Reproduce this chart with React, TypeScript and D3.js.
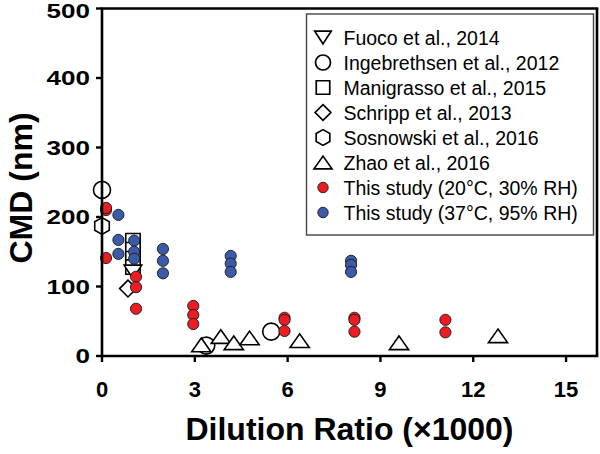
import React from "react";
import * as d3 from "d3";

type Pt = [number, number];

const fuoco: Pt[] = [[1.0, 121]];
const ingebrethsen: Pt[] = [[0, 239], [3.37, 15], [5.47, 35]];
const manigrasso: Pt[] = [[1.0, 166], [1.0, 153], [1.0, 140], [1.0, 128]];
const schripp: Pt[] = [[0.84, 97]];
const sosnowski: Pt[] = [[0, 187]];
const zhao: Pt[] = [[3.21, 16], [3.84, 28], [4.26, 19], [4.77, 26], [6.39, 22], [9.6, 19], [12.8, 29]];
const study20: Pt[] = [
  [0.13, 210], [0.13, 213], [0.13, 141],
  [1.1, 114], [1.1, 99], [1.1, 68],
  [2.95, 72], [2.95, 59], [2.95, 46],
  [5.9, 55], [5.9, 52], [5.9, 36],
  [8.16, 55], [8.16, 52], [8.16, 35],
  [11.1, 52], [11.1, 34],
];
const study37: Pt[] = [
  [0.53, 203], [0.53, 167], [0.53, 147],
  [1.04, 166], [1.04, 150], [1.04, 140],
  [1.97, 154], [1.97, 137], [1.97, 119],
  [4.16, 144], [4.16, 133], [4.16, 121],
  [8.05, 137], [8.05, 131], [8.05, 121],
];

const xTicks = [0, 3, 6, 9, 12, 15];
const yTicks = [0, 100, 200, 300, 400, 500];
const legendLabels = [
  "Fuoco et al., 2014",
  "Ingebrethsen et al., 2012",
  "Manigrasso et al., 2015",
  "Schripp et al., 2013",
  "Sosnowski et al., 2016",
  "Zhao et al., 2016",
  "This study (20°C, 30% RH)",
  "This study (37°C, 95% RH)",
];
const legendShapes = ["tridown", "circle", "square", "diamond", "hexagon", "triup", "red", "blue"];

const RED = "#ec1c24";
const BLUE = "#3b5aa8";
const FONT = "'Liberation Sans', Arial, Helvetica, sans-serif";

function shapePath(kind: string, s: number): string {
  const h = s / 2;
  const p = d3.path();
  if (kind === "triup") {
    const w = s * 0.6;
    p.moveTo(0, -h * 0.85); p.lineTo(w, h * 0.85); p.lineTo(-w, h * 0.85); p.closePath();
  } else if (kind === "tridown") {
    const w = s * 0.55;
    p.moveTo(0, h * 0.85); p.lineTo(w, -h * 0.85); p.lineTo(-w, -h * 0.85); p.closePath();
  } else if (kind === "square") {
    p.rect(-h * 0.9, -h * 0.9, h * 1.8, h * 1.8);
  } else if (kind === "diamond") {
    p.moveTo(0, -h * 1.05); p.lineTo(h * 1.05, 0); p.lineTo(0, h * 1.05); p.lineTo(-h * 1.05, 0); p.closePath();
  } else if (kind === "hexagon") {
    for (let i = 0; i < 6; i++) {
      const a = -Math.PI / 2 + (i * Math.PI) / 3;
      const px = Math.cos(a) * h * 1.05, py = Math.sin(a) * h * 1.05;
      if (i === 0) p.moveTo(px, py); else p.lineTo(px, py);
    }
    p.closePath();
  } else {
    p.arc(0, 0, h, 0, Math.PI * 2);
  }
  return p.toString();
}

export default function App() {
  const left = 102, right = 597, top = 8.5, bottom = 356;
  const x = d3.scaleLinear().domain([0, 16]).range([left, right]);
  const y = d3.scaleLinear().domain([0, 500]).range([bottom, top]);

  const openSeries: [string, Pt[]][] = [
    ["circle", ingebrethsen],
    ["square", manigrasso],
    ["tridown", fuoco],
    ["diamond", schripp],
    ["hexagon", sosnowski],
    ["triup", zhao],
  ];

  const lgX = 323, lgY0 = 37.5, lgDy = 25;

  return (
    <svg width={600} height={454} style={{ position: "absolute", left: 0, top: 0, background: "#fff" }}
      fontFamily={FONT}>
      <rect x={0} y={0} width={600} height={454} fill="#fff" />
      {openSeries.map(([kind, data]) =>
        data.map((d, i) => (
          <path key={kind + i} d={shapePath(kind, kind === "circle" ? 17 : 16)}
            transform={`translate(${x(d[0])},${y(d[1])})`}
            fill="#fff" stroke="#000" strokeWidth={1.6} />
        ))
      )}
      {study37.map((d, i) => (
        <circle key={"b" + i} cx={x(d[0])} cy={y(d[1])} r={5.6} fill={BLUE} stroke="#1a1a1a" strokeWidth={0.9} />
      ))}
      {study20.map((d, i) => (
        <circle key={"r" + i} cx={x(d[0])} cy={y(d[1])} r={5.6} fill={RED} stroke="#1a1a1a" strokeWidth={0.9} />
      ))}

      <line x1={left} x2={left} y1={top} y2={bottom} stroke="#000" strokeWidth={2.6} />
      <line x1={left - 1.3} x2={right + 1.3} y1={bottom} y2={bottom} stroke="#000" strokeWidth={2.6} />
      <line x1={left - 1.3} x2={right + 1.3} y1={top} y2={top} stroke="#000" strokeWidth={2.6} />
      <line x1={right} x2={right} y1={top} y2={bottom} stroke="#000" strokeWidth={2.6} />

      {yTicks.map((t) => (
        <g key={"yt" + t}>
          <line x1={left - 6} x2={left} y1={y(t)} y2={y(t)} stroke="#000" strokeWidth={2.4} />
          <text transform={`translate(${90},${Math.max(y(t), 11)}) scale(1.24,1)`} textAnchor="end"
            dominantBaseline="central" fontSize={21} fontWeight="bold">{t}</text>
        </g>
      ))}
      {xTicks.map((t) => (
        <g key={"xt" + t}>
          <line x1={x(t)} x2={x(t)} y1={bottom} y2={bottom + 6} stroke="#000" strokeWidth={2.4} />
          <text x={x(t)} y={389} textAnchor="middle" dominantBaseline="central"
            fontSize={22} fontWeight="bold">{t}</text>
        </g>
      ))}

      <text x={349.5} y={440} textAnchor="middle" fontSize={32} fontWeight="bold">Dilution Ratio (×1000)</text>
      <text transform={`translate(32,188) rotate(-90)`} textAnchor="middle" fontSize={32} fontWeight="bold">CMD (nm)</text>

      <rect x={306.5} y={14} width={287} height={221} fill="#fff" stroke="#444" strokeWidth={1.4} />
      {legendLabels.map((lab, i) => {
        const cy = lgY0 + i * lgDy;
        const kind = legendShapes[i];
        return (
          <g key={"lg" + i}>
            {kind === "red" || kind === "blue" ? (
              <circle cx={lgX} cy={cy} r={5.2} fill={kind === "red" ? RED : BLUE} stroke="#1a1a1a" strokeWidth={0.9} />
            ) : (
              <path d={shapePath(kind, 15)} transform={`translate(${lgX},${cy})`} fill="#fff" stroke="#000" strokeWidth={1.7} />
            )}
            <text x={343.5} y={cy} dominantBaseline="central" fontSize={19.5}>{lab}</text>
          </g>
        );
      })}
    </svg>
  );
}
